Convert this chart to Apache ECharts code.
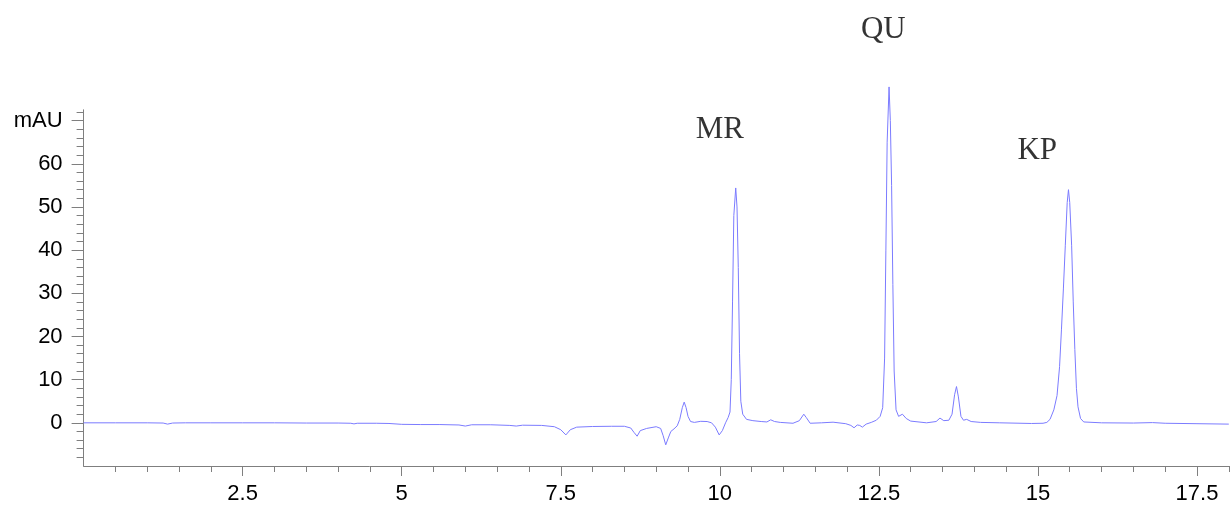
<!DOCTYPE html>
<html>
<head>
<meta charset="utf-8">
<title>Chromatogram</title>
<script src="https://cdn.jsdelivr.net/npm/echarts@6/dist/echarts.min.js"></script>
<style>
  html, body { margin: 0; padding: 0; background: #fff; }
  #main { width: 1230px; height: 505px; }
</style>
</head>
<body>
<div id="main"></div>
<script>
// retention time (min) and detector signal (mAU)
var rt = [
  0, 0.5, 1.0, 1.25, 1.32, 1.4, 1.6, 2.0, 2.5, 3.0, 3.5, 4.0, 4.2, 4.25, 4.3, 4.6, 4.8,
  5.0, 5.3, 5.6, 5.9, 6.0, 6.1, 6.4, 6.7, 6.8, 6.9, 7.2, 7.4, 7.5, 7.58, 7.65, 7.75,
  8.0, 8.3, 8.5, 8.6, 8.65, 8.7, 8.75, 8.85, 9.0, 9.07, 9.11, 9.15, 9.19, 9.23, 9.28,
  9.33, 9.37, 9.41, 9.44, 9.47, 9.5, 9.54, 9.6, 9.7, 9.8, 9.87, 9.93, 9.99, 10.04,
  10.09, 10.13, 10.16, 10.18, 10.2, 10.22, 10.25, 10.27, 10.29, 10.31, 10.33, 10.36,
  10.42, 10.52, 10.65, 10.74, 10.8, 10.86, 10.95, 11.15, 11.25, 11.32, 11.36, 11.42,
  11.6, 11.78, 11.98, 12.06, 12.11, 12.16, 12.2, 12.24, 12.3, 12.38, 12.46, 12.52,
  12.56, 12.59, 12.61, 12.63, 12.66, 12.68, 12.7, 12.72, 12.74, 12.77, 12.81, 12.87,
  12.93, 13.0, 13.25, 13.4, 13.46, 13.52, 13.6, 13.65, 13.69, 13.72, 13.75, 13.79,
  13.83, 13.88, 13.95, 14.1, 14.4, 14.9, 15.08, 15.14, 15.19, 15.25, 15.3, 15.34,
  15.37, 15.4, 15.43, 15.46, 15.48, 15.5, 15.53, 15.555, 15.58, 15.605, 15.63, 15.67,
  15.72, 16.0, 16.5, 16.8, 17.0, 17.5, 18.0
];
var signal = [
  0, 0, 0, -0.05, -0.3, -0.05, 0, 0, 0, 0, -0.05, -0.05, -0.1, -0.25, -0.1, -0.1, -0.15,
  -0.35, -0.4, -0.4, -0.5, -0.75, -0.45, -0.45, -0.6, -0.75, -0.55, -0.6, -0.9, -1.6, -2.8, -1.6, -1.0,
  -0.85, -0.8, -0.8, -1.2, -2.2, -3.1, -1.8, -1.3, -0.9, -1.3, -3.0, -5.1, -3.5, -2.0, -1.4,
  -0.7, 0.8, 3.5, 4.8, 3.5, 1.5, 0.3, 0.1, 0.35, 0.3, 0, -1.0, -2.8, -1.8,
  0, 1.2, 2.5, 10, 28, 48, 54.4, 50, 36, 16, 5, 2,
  0.8, 0.5, 0.3, 0.2, 0.7, 0.3, 0.1, -0.1, 0.5, 2.0, 1.2, -0.1,
  0, 0.15, -0.2, -0.6, -1.15, -0.5, -0.6, -1.0, -0.3, 0.1, 0.6, 1.5,
  3.5, 15, 40, 65, 77.8, 70, 55, 32, 12, 3, 1.5, 2.0,
  1.0, 0.4, 0, 0.3, 1.1, 0.5, 0.6, 2, 6.5, 8.4, 6, 1.5,
  0.6, 0.8, 0.3, 0.1, 0, -0.15, -0.1, 0.1, 0.8, 3, 6.3, 13,
  21.7, 31, 41, 51, 54, 51, 41, 28, 17, 8, 3.7, 1.0,
  0.2, 0, -0.05, 0.05, -0.1, -0.2, -0.3
];

// peak names and where their labels sit (min, mAU)
var peakNames = ['MR', 'QU', 'KP'];
var peakLabelRt = [10.0, 12.57, 14.99];
var peakLabelMau = [67.8, 90.9, 63.0];

// tick values
var xMajor = [2.5, 5, 7.5, 10, 12.5, 15, 17.5];
var xMinor = [];
for (var i = 1; i <= 36; i++) xMinor.push(i * 0.5);
var yMajor = [0, 10, 20, 30, 40, 50, 60, 70];
var yMinor = [];
for (var j = -4; j <= 36; j++) yMinor.push(j * 2);

var myChart = echarts.init(document.getElementById('main'));

var trace = rt.map(function (t, k) { return [t, signal[k]]; });
var labels = peakNames.map(function (n, k) { return [peakLabelRt[k], peakLabelMau[k], n]; });

var axisGray = '#7f7f7f';
var labelFont = { color: '#000', fontFamily: 'Liberation Sans', fontSize: 22 };

var option = {
  animation: false,
  grid: { left: 83.6, right: 1.2, top: 109.8, bottom: 37.7 },
  xAxis: [
    {
      type: 'value', min: 0, max: 18,
      axisLine: { onZero: false, lineStyle: { color: axisGray, width: 1 } },
      axisTick: { customValues: xMajor, length: 10, lineStyle: { color: axisGray } },
      axisLabel: Object.assign({ customValues: xMajor, margin: 17 }, labelFont),
      splitLine: { show: false }
    },
    {
      type: 'value', min: 0, max: 18, position: 'bottom',
      axisLine: { show: false, onZero: false },
      axisTick: { customValues: xMinor, length: 6, lineStyle: { color: axisGray } },
      axisLabel: { show: false },
      splitLine: { show: false }
    }
  ],
  yAxis: [
    {
      type: 'value', min: -10, max: 72.5,
      axisLine: { show: true, onZero: false, lineStyle: { color: axisGray, width: 1 } },
      axisTick: { show: true, customValues: yMajor, length: 12, lineStyle: { color: axisGray } },
      axisLabel: Object.assign({
        customValues: yMajor, margin: 21,
        formatter: function (v) { return v === 70 ? 'mAU' : v; }
      }, labelFont),
      splitLine: { show: false }
    },
    {
      type: 'value', min: -10, max: 72.5, position: 'left',
      axisLine: { show: false, onZero: false },
      axisTick: { show: true, customValues: yMinor, length: 7, lineStyle: { color: axisGray } },
      axisLabel: { show: false },
      splitLine: { show: false }
    }
  ],
  series: [
    {
      name: 'signal',
      type: 'line',
      data: trace,
      showSymbol: false,
      clip: false,
      lineStyle: { color: '#7b7bff', width: 1 }
    },
    {
      name: 'peaks',
      type: 'scatter',
      data: labels,
      symbolSize: 0,
      clip: false,
      silent: true,
      label: {
        show: true,
        position: 'inside',
        formatter: function (p) { return p.value[2]; },
        color: '#000',
        fontFamily: 'Liberation Serif',
        fontSize: 31
      }
    }
  ]
};

myChart.setOption(option);
</script>
</body>
</html>
